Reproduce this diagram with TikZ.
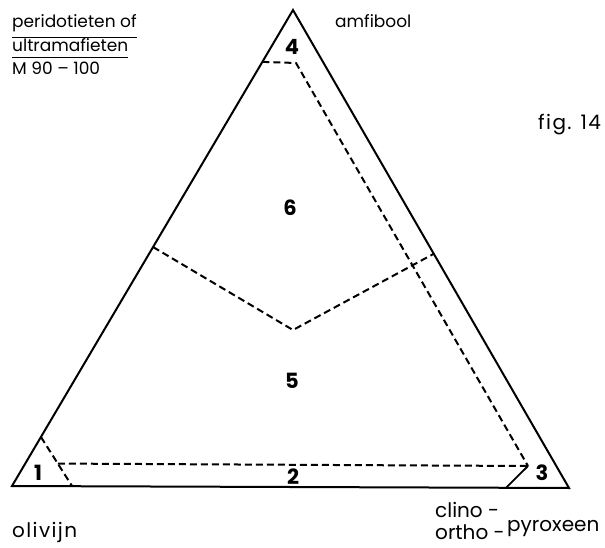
\documentclass[tikz,border=0pt]{standalone}
\usepackage{fontspec}
\setmainfont{Poppins}
\newfontfamily\widefont[LetterSpace=7]{Poppins}
\usetikzlibrary{calc}
\begin{document}
\begin{tikzpicture}[x=1pt,y=-1pt,
  edge/.style={line width=2pt, line join=miter},
  solidb/.style={line width=1.8pt},
  bound/.style={line width=2pt, dash pattern=on 7pt off 4pt},
  lbl/.style={anchor=base west, inner sep=0pt, font=\fontsize{17}{20}\selectfont},
  biglbl/.style={anchor=base west, inner sep=0pt, font=\fontsize{20}{24}\selectfont},
  widelbl/.style={anchor=base west, inner sep=0pt, font=\widefont\fontsize{20}{24}\selectfont},
  num/.style={font=\bfseries\fontsize{21}{24}\selectfont, inner sep=0pt}]
\useasboundingbox (0,0) rectangle (605,548);
% vertices
\coordinate (A) at (293,10);
\coordinate (L) at (12,486);
\coordinate (R) at (569,488);
\draw[edge] (A) -- (L) -- (R) -- cycle;
% field 1
\coordinate (P1) at ($(L)!0.103!(A)$);
\coordinate (Q1) at ($(L)!0.108!(R)$);
\draw[bound] (P1) -- (Q1);
% field 2 / 3 boundary
\coordinate (H1) at ($(P1)!0.54!(Q1)$);
\coordinate (C3) at (528,466);
\coordinate (B3) at ($(L)!0.887!(R)$);
\draw[bound] (H1) -- (C3);
\draw[solidb] (C3) -- (B3);
% field 4 / right band
\coordinate (P4) at ($(A)!0.109!(L)$);
\coordinate (T4) at (296,63);
\draw[bound] (P4) -- (T4) -- (C3);
% fields 5 / 6
\coordinate (V1) at ($(A)!0.498!(L)$);
\coordinate (V2) at (293,330);
\coordinate (V3) at ($(A)!0.51!(R)$);
\draw[bound] (V1) -- (V2) -- (V3);
% numbers
\node[num] (n1) at (38,473) {1};
\node[num] (n2) at (293,477) {2};
\node[num] (n3) at (542,473) {3};
\node[num] (n4) at (292,47) {4};
\node[num] (n5) at (292,381) {5};
\node[num] (n6) at (290,208) {6};
% labels
\node[lbl] (t1) at (12,28) {peridotieten of};
\node[lbl] (t2) at (12,52) {ultramafieten};
\node[lbl] (t3) at (12,75) {M 90 -- 100};
\draw[line width=1.3pt] (t1.south west) ++(0,5) coordinate (u1a) -- (u1a -| t1.south east);
\draw[line width=1.3pt] (t2.south west) ++(0,5) coordinate (u2a) -- (u2a -| t2.south east);
\node[lbl] (am) at (335,28) {amfibool};
\node[widelbl] (fig) at (538,130) {fig. 14};
\node[widelbl] (ol) at (12,537) {olivijn};
\node[biglbl] (cl) at (435,517) {clino -};
\node[biglbl] (or) at (435,539) {ortho -};
\node[biglbl] (py) at (507,531) {pyroxeen};
\end{tikzpicture}
\end{document}
